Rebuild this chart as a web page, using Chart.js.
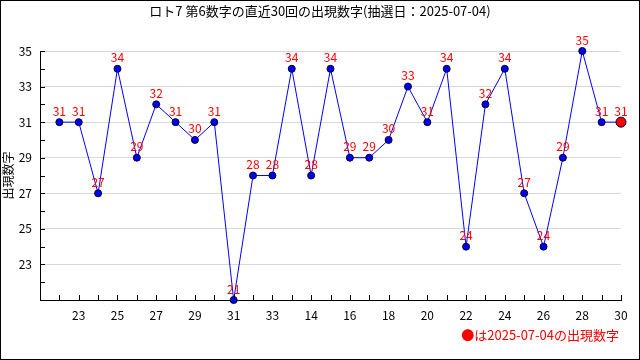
<!DOCTYPE html>
<html>
<head>
<meta charset="utf-8">
<script src="https://cdn.jsdelivr.net/npm/chart.js@4"></script>
<style>
  html, body { margin: 0; padding: 0; background: #fff; }
  #wrap { width: 640px; height: 360px; }
</style>
</head>
<body>
<div id="wrap"><canvas id="myChart" width="640" height="360"></canvas></div>
<script>
const titleText = 'ロト7 第6数字の直近30回の出現数字(抽選日：2025-07-04)';
const footText = '●は2025-07-04の出現数字';
const yTitle = '出現数字';

// draw labels under the x axis (only the even ones are shown)
const xLabels = ['22', '23', '24', '25', '26', '27', '28', '29', '30', '31', '32', '33',
  '13', '14', '15', '16', '17', '18', '19', '20', '21', '22', '23', '24', '25', '26', '27', '28', '29', '30'];
const values = [31, 31, 27, 34, 29, 32, 31, 30, 31, 21, 28, 28, 34, 28, 34,
  29, 29, 30, 33, 31, 34, 24, 32, 34, 27, 24, 29, 35, 31, 31];
const yTicks = [23, 25, 27, 29, 31, 33, 35];

const font = "'Noto Sans CJK JP', 'DejaVu Sans', sans-serif";
const last = values.length - 1;

const canvas = document.getElementById('myChart');

// frame, inner ticks, red numbers, title and footer
const extras = {
  id: 'extras',
  afterDraw(chart) {
    const ctx = chart.ctx;
    const xs = chart.scales.x;
    const ys = chart.scales.y;
    const area = chart.chartArea;
    ctx.save();

    // ticks pointing into the plot
    ctx.strokeStyle = '#000';
    ctx.lineWidth = 1;
    ctx.beginPath();
    for (let v = ys.min; v <= ys.max; v++) {
      const y = Math.round(ys.getPixelForValue(v)) + 0.5;
      ctx.moveTo(area.left, y);
      ctx.lineTo(area.left + 5, y);
    }
    for (let v = 1; v <= xs.max; v++) {
      const x = Math.round(xs.getPixelForValue(v)) + 0.5;
      ctx.moveTo(x, area.bottom);
      ctx.lineTo(x, area.bottom - 5);
    }
    ctx.stroke();

    // value labels above the points
    const meta = chart.getDatasetMeta(0);
    ctx.fillStyle = '#ff0000';
    ctx.font = '12px ' + font;
    ctx.textAlign = 'center';
    ctx.textBaseline = 'bottom';
    meta.data.forEach((pt, i) => {
      ctx.fillText(String(values[i]), pt.x, pt.y - 5);
    });

    // title
    ctx.fillStyle = '#000';
    ctx.font = '13px ' + font;
    ctx.textBaseline = 'middle';
    ctx.fillText(titleText, chart.width / 2, 11);

    // footer
    ctx.fillStyle = '#ff0000';
    ctx.textAlign = 'right';
    ctx.fillText(footText, 619, 335);

    // outer frame
    ctx.strokeStyle = '#000';
    ctx.strokeRect(0.5, 0.5, chart.width - 1, chart.height - 1);
    ctx.restore();
  }
};

new Chart(canvas, {
  type: 'line',
  data: {
    datasets: [
      {
        data: values.map((v, i) => ({ x: i + 1, y: v })),
        borderColor: '#0000ff',
        borderWidth: 1,
        backgroundColor: '#0000ff',
        pointBackgroundColor: values.map((v, i) => (i === last ? '#ff0000' : '#0000ee')),
        pointBorderColor: '#000033',
        pointBorderWidth: 1,
        pointRadius: values.map((v, i) => (i === last ? 5 : 3.5)),
        tension: 0,
        clip: false,
      },
    ],
  },
  options: {
    responsive: false,
    animation: false,
    events: [],
    layout: { padding: { top: 51, right: 19, left: 0, bottom: 0 } },
    plugins: {
      legend: { display: false },
      tooltip: { enabled: false },
      title: { display: false },
    },
    scales: {
      x: {
        type: 'linear',
        min: 0,
        max: values.length,
        afterFit: (scale) => { scale.height = 60; },
        border: { color: '#000', width: 1 },
        grid: { display: false, drawTicks: false },
        ticks: {
          stepSize: 1,
          autoSkip: false,
          maxRotation: 0,
          padding: 8,
          color: '#000',
          font: { family: font, size: 12 },
          callback: (v) => (v > 0 && v % 2 === 0 ? xLabels[v - 1] : ''),
        },
      },
      y: {
        min: 21,
        max: 35,
        afterFit: (scale) => { scale.width = 40; },
        border: { color: '#000', width: 1 },
        grid: {
          drawTicks: false,
          color: (c) => (yTicks.includes(c.tick.value) ? '#d8d8d8' : 'rgba(0,0,0,0)'),
        },
        ticks: {
          stepSize: 1,
          autoSkip: false,
          padding: 8,
          color: '#000',
          font: { family: font, size: 12 },
          callback: (v) => (yTicks.includes(v) ? String(v) : ''),
        },
        title: {
          display: true,
          text: yTitle,
          color: '#000',
          padding: { top: 1, bottom: 0 },
          font: { family: font, size: 12 },
        },
      },
    },
  },
  plugins: [extras],
});
</script>
</body>
</html>
